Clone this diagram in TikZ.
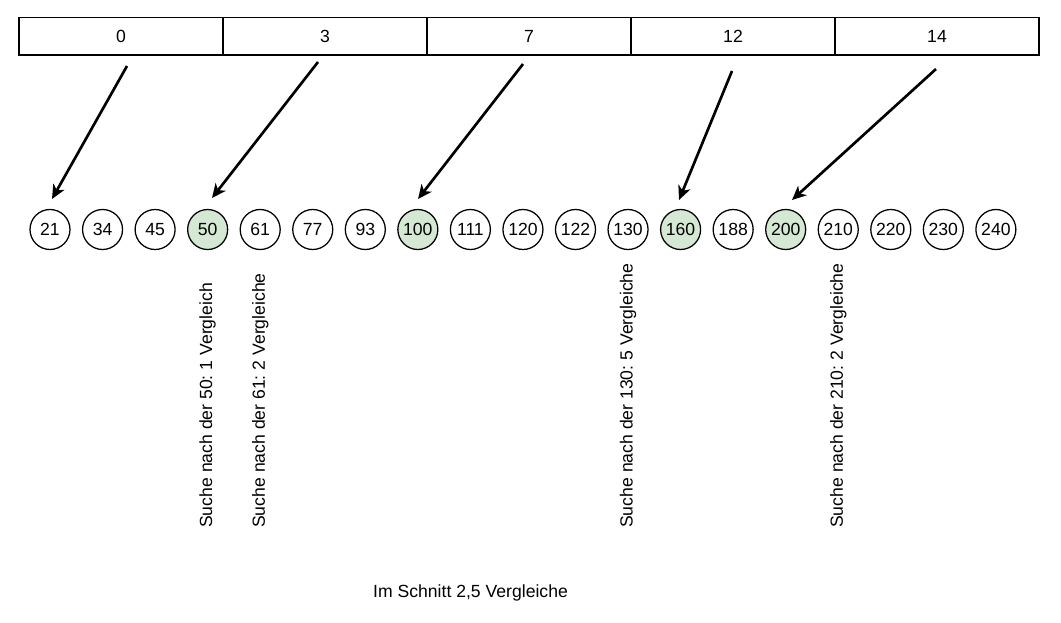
\documentclass[tikz,border=0pt]{standalone}
\usepackage{fontspec}
\setmainfont{Liberation Sans}
\usetikzlibrary{arrows.meta}
\frenchspacing
\definecolor{hitgreen}{HTML}{D5E8D4}
\tikzset{
  lbl/.style={font=\fontsize{13.2}{15.8}\selectfont, text=black},
  cell/.style={lbl, draw=black, line width=1.1pt, minimum width=153pt, minimum height=28.1pt, inner sep=0pt},
  elem/.style={lbl, circle, draw=black, line width=0.95pt, minimum size=30pt, inner sep=0pt, fill=white},
  hit/.style={elem, fill=hitgreen},
  ptr/.style={line width=2pt, -{Stealth[length=10.5pt, width=9.5pt, inset=3pt]}},
  note/.style={lbl, rotate=90, anchor=west, inner sep=0pt}
}
\begin{document}
\begin{tikzpicture}[x=0.75pt,y=-0.75pt]
\useasboundingbox (0,0) rectangle (1061,622);
% index table
\node[cell] (c0) at (121,36.25) {0};
\node[cell] (c1) at (325,36.25) {3};
\node[cell] (c2) at (529,36.25) {7};
\node[cell] (c3) at (733,36.25) {12};
\node[cell] (c4) at (937,36.25) {14};
% sorted list
\foreach \v [count=\i from 0] in {21,34,45,50,61,77,93,100,111,120,122,130,160,188,200,210,220,230,240}{
  \ifnum\i=3 \def\st{hit}\else\ifnum\i=7 \def\st{hit}\else\ifnum\i=12 \def\st{hit}\else\ifnum\i=14 \def\st{hit}\else\def\st{elem}\fi\fi\fi\fi
  \node[\st] (n\i) at ({50+52.55*\i},229.5) {\v};
}
% arrow end points
\coordinate (s0) at (127,66);  \coordinate (e0) at (52,199);
\coordinate (s1) at (318,62);  \coordinate (e1) at (212,198);
\coordinate (s2) at (523,64);  \coordinate (e2) at (418,199);
\coordinate (s3) at (732,71);  \coordinate (e3) at (679,200);
\coordinate (s4) at (936,69);  \coordinate (e4) at (792,200);
\draw[ptr] (s0) -- (e0);
\draw[ptr] (s1) -- (e1);
\draw[ptr] (s2) -- (e2);
\draw[ptr] (s3) -- (e3);
\draw[ptr] (s4) -- (e4);
% search notes
\node[note] (t50) at (n3.center |- 0,528) {Suche nach der 50: 1 Vergleich};
\node[note] (t61) at (n4.center |- 0,528) {Suche nach der 61: 2 Vergleiche};
\node[note] (t130) at (n11.center |- 0,528) {Suche nach der 130: 5 Vergleiche};
\node[note] (t210) at (n15.center |- 0,528) {Suche nach der 210: 2 Vergleiche};
\node[lbl] (avg) at (470.5,593) {Im Schnitt 2,5 Vergleiche};
\end{tikzpicture}
\end{document}
